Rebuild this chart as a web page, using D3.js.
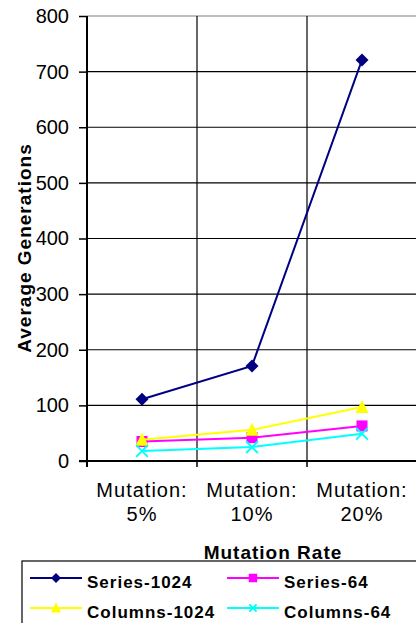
<!DOCTYPE html>
<html>
<head>
<meta charset="utf-8">
<script src="https://cdn.jsdelivr.net/npm/d3@7/dist/d3.min.js"></script>
<style>
  html, body { margin: 0; padding: 0; background: #fff; overflow: hidden; }
  svg { display: block; font-family: "Liberation Sans", Arial, sans-serif; }
</style>
</head>
<body>
<svg id="chart" width="416" height="623"></svg>
<script>
// Mutation rate categories (two-line labels)
const categories = ["Mutation: 5%", "Mutation: 10%", "Mutation: 20%"];
const yTicks = [0, 100, 200, 300, 400, 500, 600, 700, 800];

// Average generations per configuration
const series1024 = [111, 171, 721];
const series64 = [35, 42, 63];
const columns1024 = [38, 56, 97];
const columns64 = [18, 25, 49];

const seriesList = [
  { name: "Series-1024", values: series1024, color: "#000080", symbol: "diamond" },
  { name: "Series-64", values: series64, color: "#FF00FF", symbol: "square" },
  { name: "Columns-1024", values: columns1024, color: "#FFFF00", symbol: "triangle" },
  { name: "Columns-64", values: columns64, color: "#00FFFF", symbol: "cross" }
];

const svg = d3.select("#chart");
const plot = { left: 87, right: 417, top: 16, bottom: 461 };

const x = d3.scaleBand().domain(categories).range([plot.left, plot.right]);
const y = d3.scaleLinear().domain([0, 800]).range([plot.bottom, plot.top]);

// Horizontal gridlines
svg.append("g")
  .selectAll("line")
  .data(yTicks.filter(d => d > 0))
  .join("line")
  .attr("x1", plot.left).attr("x2", plot.right)
  .attr("y1", d => y(d)).attr("y2", d => y(d))
  .attr("stroke", d => d === 800 ? "#808080" : "#000")
  .attr("stroke-width", 1.2);

// Vertical gridlines at category boundaries
svg.append("g")
  .selectAll("line")
  .data(categories.slice(1))
  .join("line")
  .attr("x1", d => x(d)).attr("x2", d => x(d))
  .attr("y1", plot.top).attr("y2", plot.bottom)
  .attr("stroke", "#000")
  .attr("stroke-width", 1.2);

// Y axis
const yAxis = svg.append("g")
  .attr("transform", `translate(${plot.left},0)`)
  .call(d3.axisLeft(y).tickValues(yTicks).tickSize(8).tickPadding(10));
yAxis.select(".domain").attr("stroke", "#000").attr("stroke-width", 2)
  .attr("d", `M0,${plot.top}V${plot.bottom + 6}`);
yAxis.selectAll(".tick line").attr("stroke", "#000").attr("stroke-width", 1.5);
yAxis.selectAll(".tick text")
  .attr("font-size", 20).attr("fill", "#000")
  .attr("font-family", "Liberation Sans, Arial, sans-serif");

// X axis with ticks at category boundaries
const xg = svg.append("g").attr("transform", `translate(0,${plot.bottom})`);
xg.append("line")
  .attr("x1", plot.left - 8).attr("x2", plot.right)
  .attr("stroke", "#000").attr("stroke-width", 2);
xg.selectAll("line.tk")
  .data(categories.concat(["end"]))
  .join("line")
  .attr("class", "tk")
  .attr("x1", (d, i) => plot.left + i * x.bandwidth())
  .attr("x2", (d, i) => plot.left + i * x.bandwidth())
  .attr("y1", 0).attr("y2", 6)
  .attr("stroke", "#000").attr("stroke-width", 1.5);

const xl = svg.append("g")
  .selectAll("text")
  .data(categories)
  .join("text")
  .attr("x", d => x(d) + x.bandwidth() / 2)
  .attr("text-anchor", "middle")
  .attr("font-size", 20)
  .attr("letter-spacing", 1)
  .attr("fill", "#000");
xl.append("tspan").attr("x", d => x(d) + x.bandwidth() / 2).attr("y", 497)
  .text(d => d.split(" ")[0]);
xl.append("tspan").attr("x", d => x(d) + x.bandwidth() / 2).attr("y", 521)
  .text(d => d.split(" ")[1]);

// Axis titles
svg.append("text")
  .attr("x", 273).attr("y", 559)
  .attr("text-anchor", "middle")
  .attr("font-size", 19).attr("font-weight", "bold").attr("letter-spacing", 1)
  .text("Mutation Rate");

svg.append("text")
  .attr("transform", "translate(31,248) rotate(-90)")
  .attr("text-anchor", "middle")
  .attr("font-size", 19).attr("font-weight", "bold").attr("letter-spacing", 1)
  .text("Average Generations");

// Marker shapes
function drawMarker(g, type, color, size) {
  const h = size / 2;
  if (type === "diamond") {
    g.append("path").attr("d", `M0,${-h}L${h},0L0,${h}L${-h},0Z`).attr("fill", color);
  } else if (type === "square") {
    const s = size * 0.85;
    g.append("rect").attr("x", -s / 2).attr("y", -s / 2)
      .attr("width", s).attr("height", s).attr("fill", color);
  } else if (type === "triangle") {
    g.append("path").attr("d", `M0,${-h * 1.1}L${h},${h * 0.9}L${-h},${h * 0.9}Z`).attr("fill", color);
  } else if (type === "cross") {
    const s = h * 0.9;
    g.append("path").attr("d", `M${-s},${-s}L${s},${s}M${-s},${s}L${s},${-s}`)
      .attr("stroke", color).attr("stroke-width", 2).attr("fill", "none");
  }
}

const line = d3.line()
  .x((d, i) => x(categories[i]) + x.bandwidth() / 2)
  .y(d => y(d));

seriesList.forEach(s => {
  const g = svg.append("g");
  g.append("path")
    .attr("d", line(s.values))
    .attr("fill", "none")
    .attr("stroke", s.color)
    .attr("stroke-width", 2);
  s.values.forEach((v, i) => {
    const m = g.append("g")
      .attr("transform", `translate(${x(categories[i]) + x.bandwidth() / 2},${y(v)})`);
    drawMarker(m, s.symbol, s.color, 13);
  });
});

// Legend
const legend = svg.append("g");
legend.append("rect")
  .attr("x", 22).attr("y", 561).attr("width", 420).attr("height", 80)
  .attr("fill", "#fff").attr("stroke", "#000").attr("stroke-width", 1.2);

const legendPos = [
  { lx: 30, ly: 578 }, { lx: 227, ly: 578 },
  { lx: 30, ly: 608 }, { lx: 227, ly: 608 }
];
seriesList.forEach((s, i) => {
  const p = legendPos[i];
  const g = legend.append("g");
  g.append("line")
    .attr("x1", p.lx).attr("x2", p.lx + 52)
    .attr("y1", p.ly).attr("y2", p.ly)
    .attr("stroke", s.color).attr("stroke-width", 2);
  const m = g.append("g").attr("transform", `translate(${p.lx + 26},${p.ly})`);
  drawMarker(m, s.symbol, s.color, s.symbol === "cross" ? 8 : 10);
  g.append("text")
    .attr("x", p.lx + 57).attr("y", p.ly + 10)
    .attr("font-size", 17).attr("font-weight", "bold").attr("letter-spacing", 1)
    .text(s.name);
});
</script>
</body>
</html>
